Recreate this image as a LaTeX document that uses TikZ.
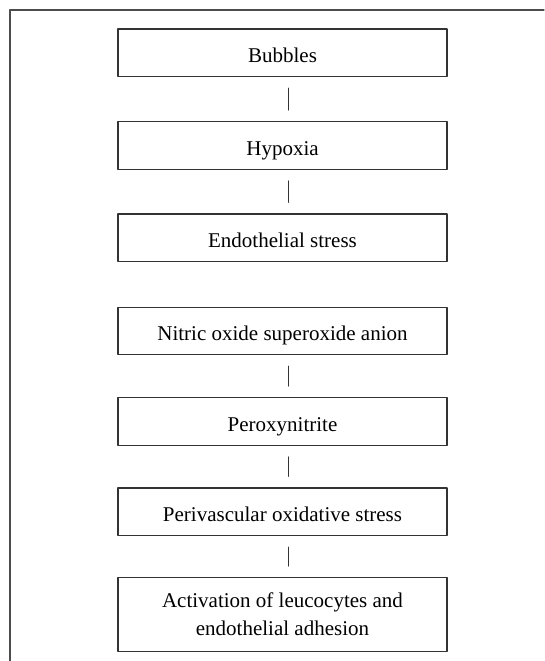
\documentclass[tikz,border=0pt]{standalone}
\usepackage{fontspec}
\setmainfont{Liberation Serif}
\usetikzlibrary{positioning}
\begin{document}
\begin{tikzpicture}[x=1pt,y=1pt,line join=round,line cap=round,
 font=\fontsize{21}{28}\selectfont,node distance=42.5pt,
 box/.style={draw=black!80,line width=1.2pt,minimum width=329pt,minimum height=47.5pt,text height=20pt,text depth=0pt},
 bigbox/.style={draw=black!80,line width=1.2pt,minimum width=329pt,minimum height=74pt,align=center},
 link/.style={draw=black!80,line width=1pt,shorten <=11pt,shorten >=11pt}]
 \useasboundingbox (0,0) rectangle (544,-661);
 % frame, only top and left edge visible
 \draw[line width=1.2pt,black!70] (544,-10) -- (10,-10) -- (10,-661);
 \node[box] (bubbles) at (282.5,-52.75) {Bubbles};
 \node[box,below=44pt of bubbles] (hypoxia) {Hypoxia};
 \node[box,below=43.5pt of hypoxia] (endo) {Endothelial stress};
 \node[box,below=44.5pt of endo] (nitric) {Nitric oxide superoxide anion};
 \node[box,below=42pt of nitric] (peroxy) {Peroxynitrite};
 \node[box,below=41.5pt of peroxy] (peri) {Perivascular oxidative stress};
 \node[bigbox,below=41pt of peri] (activation) {Activation of leucocytes and\\ endothelial adhesion};
 \foreach \a/\b in {bubbles/hypoxia,hypoxia/endo,nitric/peroxy,peroxy/peri,peri/activation}
  \draw[link] ([xshift=5.5pt]\a.south) -- ([xshift=5.5pt]\b.north);
\end{tikzpicture}
\end{document}
